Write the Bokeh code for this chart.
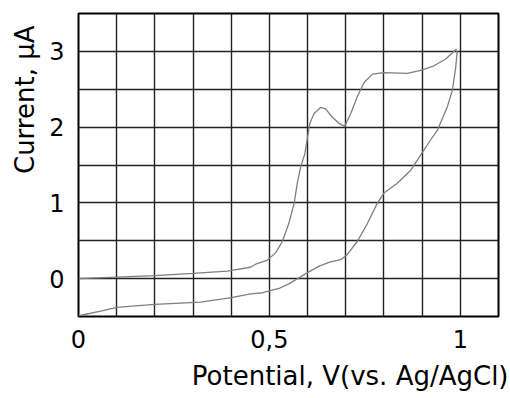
from bokeh.plotting import figure
from bokeh.models import FixedTicker, Range1d, Title
from bokeh.embed import file_html
from bokeh.resources import INLINE

# forward (anodic) scan
v_fwd = [0.0, 0.1, 0.2, 0.3, 0.39, 0.45, 0.464, 0.495, 0.516, 0.534, 0.551, 0.565,
         0.573, 0.582, 0.593, 0.600, 0.606, 0.617, 0.634, 0.647, 0.665, 0.682, 0.697,
         0.713, 0.730, 0.748, 0.770, 0.800, 0.861, 0.896, 0.931, 0.962, 0.990]
i_fwd = [0.0, 0.02, 0.04, 0.07, 0.10, 0.15, 0.19, 0.245, 0.34, 0.49, 0.73, 1.0,
         1.26, 1.48, 1.65, 1.87, 2.05, 2.18, 2.26, 2.24, 2.13, 2.05, 2.01,
         2.18, 2.40, 2.59, 2.70, 2.72, 2.71, 2.75, 2.81, 2.90, 3.03]
# reverse (cathodic) scan
v_rev = [0.992, 0.988, 0.979, 0.966, 0.940, 0.922, 0.896, 0.870, 0.835, 0.800, 0.783,
         0.757, 0.730, 0.704, 0.687, 0.660, 0.630, 0.600, 0.577, 0.551, 0.525, 0.477,
         0.451, 0.400, 0.320, 0.200, 0.100, 0.058, 0.0]
i_rev = [3.01, 2.79, 2.48, 2.27, 1.96, 1.83, 1.63, 1.43, 1.26, 1.13, 1.0,
         0.73, 0.49, 0.32, 0.25, 0.22, 0.165, 0.08, 0.01, -0.07, -0.13, -0.19,
         -0.20, -0.25, -0.31, -0.34, -0.38, -0.43, -0.49]

x_ticks = [0, 0.5, 1]
x_tick_labels = ["0", "0,5", "1"]
y_ticks = [0, 1, 2, 3]
x_grid = [0.1 * k for k in range(1, 11)]
y_grid = [0.0, 0.5, 1.0, 1.5, 2.0, 2.5, 3.0]

x_label = "Potential, V(vs. Ag/AgCl)"
y_label = "Current, \u00b5A"

FONT = "DejaVu Sans"

p = figure(width=510, height=398, output_backend="svg", toolbar_location=None,
           x_range=Range1d(0, 1.1), y_range=Range1d(-0.5, 3.5),
           min_border_left=10, min_border_right=12, min_border_top=13, min_border_bottom=5)

p.outline_line_color = "black"
p.outline_line_width = 2
p.background_fill_color = "white"
p.border_fill_color = "white"

p.xgrid.ticker = FixedTicker(ticks=x_grid)
p.ygrid.ticker = FixedTicker(ticks=y_grid)
for g in (p.xgrid, p.ygrid):
    g.grid_line_color = "#222222"
    g.grid_line_width = 1.4
    g.grid_line_alpha = 1.0

p.xaxis.ticker = FixedTicker(ticks=x_ticks)
p.xaxis.major_label_overrides = {t: s for t, s in zip(x_ticks, x_tick_labels)}
p.yaxis.ticker = FixedTicker(ticks=y_ticks)
for ax in (p.xaxis, p.yaxis):
    ax.axis_line_color = None
    ax.major_tick_line_color = None
    ax.minor_tick_line_color = None
    ax.major_tick_out = 0
    ax.major_tick_in = 0
    ax.major_label_text_font = FONT
    ax.major_label_text_font_size = "24px"
    ax.major_label_text_color = "black"
p.xaxis.major_label_standoff = 13
p.yaxis.major_label_standoff = 14

p.line(v_fwd, i_fwd, line_color="#7f7f7f", line_width=1.3)
p.line(v_rev, i_rev, line_color="#7f7f7f", line_width=1.3)

p.add_layout(Title(text=x_label, align="right", offset=-10, standoff=16,
                   text_font=FONT, text_font_size="26px", text_font_style="normal",
                   text_color="black"), "below")
p.add_layout(Title(text=y_label, align="right", offset=12, standoff=14,
                   text_font=FONT, text_font_size="26px", text_font_style="normal",
                   text_color="black"), "left")

open("out.html", "w").write(file_html(p, INLINE))
